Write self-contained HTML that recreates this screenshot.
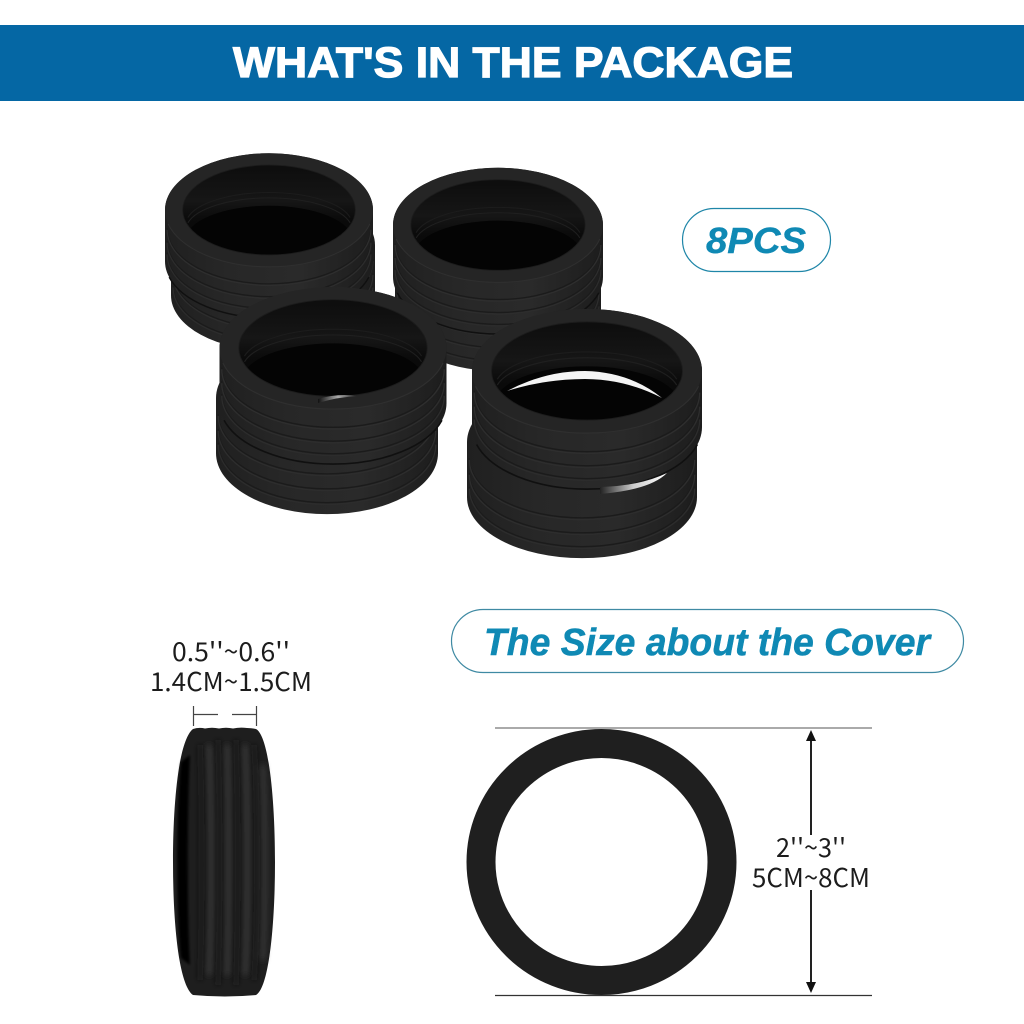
<!DOCTYPE html>
<html><head><meta charset="utf-8"><title>What's in the package</title>
<style>html,body{margin:0;padding:0;background:#fff}svg{display:block}</style></head>
<body>
<svg xmlns="http://www.w3.org/2000/svg" width="1024" height="1024" viewBox="0 0 1024 1024">
<defs>
<linearGradient id="body" x1="0" x2="1" y1="0" y2="0">
<stop offset="0" stop-color="#202020"/><stop offset=".3" stop-color="#272727"/><stop offset=".65" stop-color="#2a2a2a"/><stop offset="1" stop-color="#1d1d1d"/>
</linearGradient>
<linearGradient id="hole" x1="0" x2="0" y1="0" y2="1">
<stop offset="0" stop-color="#0d0d0d"/><stop offset=".4" stop-color="#161616"/><stop offset=".6" stop-color="#0b0b0b"/><stop offset="1" stop-color="#040404"/>
</linearGradient>
<linearGradient id="fade" x1="0" x2="1" y1="0" y2="0">
<stop offset="0" stop-color="#222"/><stop offset=".5" stop-color="#ccc"/><stop offset="1" stop-color="#fff"/>
</linearGradient>
<linearGradient id="fade2" x1="0" x2="1" y1="0" y2="0">
<stop offset="0" stop-color="#111"/><stop offset=".5" stop-color="#aaa"/><stop offset="1" stop-color="#222"/>
</linearGradient>
<filter id="b1" x="-40%" y="-10%" width="180%" height="120%"><feGaussianBlur stdDeviation="3"/></filter>
<filter id="b2" x="-10%" y="-10%" width="120%" height="120%"><feGaussianBlur stdDeviation="1.2"/></filter>
<clipPath id="holeclip"><ellipse cx="0" cy="0" rx="83" ry="42"/></clipPath>
<g id="lower">
<path d="M-100 0V48A100 53 0 0 0 100 48V0A100 53 0 0 0-100 0Z" fill="url(#body)"/>
<g fill="none" stroke-width="1.2">
<path d="M-98 14A98 52 0 0 0 98 14" stroke="#1b1b1b"/>
<path d="M-98 15.500A98 52 0 0 0 98 15.500" stroke="#2d2d2d"/>
<path d="M-98 27A98 52 0 0 0 98 27" stroke="#1b1b1b"/>
<path d="M-98 28.500A98 52 0 0 0 98 28.500" stroke="#2d2d2d"/>
<path d="M-98 39A98 52 0 0 0 98 39" stroke="#1b1b1b"/>
<path d="M-98 40.500A98 52 0 0 0 98 40.500" stroke="#2c2c2c"/>
</g>
</g>
<g id="upper">
<path d="M-100 0V48A100 53 0 0 0 100 48V0A100 53 0 0 0-100 0Z" fill="url(#body)"/>
<g fill="none" stroke-width="1.2">
<path d="M-98 17A98 52 0 0 0 98 17" stroke="#1b1b1b"/>
<path d="M-98 18.500A98 52 0 0 0 98 18.500" stroke="#2e2e2e"/>
<path d="M-98 29A98 52 0 0 0 98 29" stroke="#1b1b1b"/>
<path d="M-98 30.500A98 52 0 0 0 98 30.500" stroke="#2d2d2d"/>
<path d="M-98 40A98 52 0 0 0 98 40" stroke="#1b1b1b"/>
<path d="M-98 41.500A98 52 0 0 0 98 41.500" stroke="#2c2c2c"/>
</g>
<path d="M-96 62.800A100 53 0 0 0 96 62.800" fill="none" stroke="#101010" stroke-width="1.4"/>
<ellipse cx="0" cy="0" rx="100" ry="53" fill="#252525"/>
<path d="M-97 13A100 53 0 0 0 97 13" fill="none" stroke="#2f2f2f" stroke-width="1"/>
<ellipse cx="0" cy="0" rx="83" ry="42" fill="url(#hole)"/>
<g clip-path="url(#holeclip)">
<ellipse cx="0" cy="28" rx="80" ry="32" fill="#040404"/>
<g fill="none">
<path d="M-78 12A80 30 0 0 1 78 12" stroke="#1f1f1f" stroke-width="1"/>
<path d="M-78 7A80 30 0 0 1 78 7" stroke="#1c1c1c" stroke-width="1"/>
</g>
</g>
<ellipse cx="0" cy="0" rx="83" ry="42" fill="none" stroke="#1c1c1c" stroke-width=".8"/>
</g>
</defs>

<rect x="0" y="0" width="1024" height="1024" fill="#fff"/>

<!-- banner -->
<rect x="0" y="25" width="1024" height="76" fill="#0567a4"/>
<text x="233" y="77" font-family="Liberation Sans, sans-serif" font-weight="700" font-size="43" fill="#fff" stroke="#fff" stroke-width="1.2" textLength="560" lengthAdjust="spacingAndGlyphs">WHAT'S IN THE PACKAGE</text>

<!-- stack 1 -->
<use href="#lower" transform="translate(273 245) scale(1.02 1.05)"/>
<use href="#upper" transform="translate(269 210) scale(1.04 1.07)"/>
<!-- stack 2 -->
<use href="#lower" transform="translate(498 263) scale(1.03 1.07)"/>
<use href="#upper" transform="translate(498 225) scale(1.05 1.08)"/>
<!-- stack 3 -->
<use href="#lower" transform="translate(327 398) scale(1.11 1.15)"/>
<use href="#upper" transform="translate(333 348) scale(1.135 1.15)"/>
<path d="M318 399Q338 393 358 396Q338 397 318 403Z" fill="url(#fade2)"/>
<!-- stack 4 -->
<use href="#lower" transform="translate(582 442) scale(1.15 1.15)"/>
<use href="#upper" transform="translate(587 371) scale(1.15 1.17)"/>
<path d="M600 487Q640 486 667 473Q650 490 600 494Z" fill="url(#fade)"/>
<path d="M507 391Q545 371 585 371Q630 372 662 398Q625 379 585 379Q545 379 507 391Z" fill="#f4f4f4"/>

<!-- 8PCS pill -->
<rect x="682.5" y="208.5" width="148" height="63" rx="31.5" fill="#fff" stroke="#1f86a8" stroke-width="1.2"/>
<text x="706" y="253" font-family="Liberation Sans, sans-serif" font-weight="700" font-style="italic" font-size="36" fill="#0f89b4" stroke="#0f89b4" stroke-width=".4" textLength="100" lengthAdjust="spacingAndGlyphs">8PCS</text>

<!-- size pill -->
<rect x="451.5" y="609.5" width="512" height="63" rx="31.5" fill="#fff" stroke="#3f8aa3" stroke-width="1.2"/>
<text x="484" y="655" font-family="Liberation Sans, sans-serif" font-weight="700" font-style="italic" font-size="38" fill="#0f89b4" stroke="#0f89b4" stroke-width=".5" textLength="446" lengthAdjust="spacingAndGlyphs">The Size about the Cover</text>

<!-- side ring labels -->
<g font-family="Noto Sans CJK SC, Liberation Sans, sans-serif" font-size="26" fill="#1c1c1c">
<text x="172" y="661" textLength="118" lengthAdjust="spacingAndGlyphs">0.5''~0.6''</text>
<text x="150" y="691" textLength="162" lengthAdjust="spacingAndGlyphs">1.4CM~1.5CM</text>
<text x="776" y="857" textLength="70" lengthAdjust="spacingAndGlyphs">2''~3''</text>
<text x="752" y="887" textLength="118" lengthAdjust="spacingAndGlyphs">5CM~8CM</text>
</g>
<g stroke="#444" stroke-width="1.2" fill="none">
<path d="M193.5 706V726M256.5 706V726M194 714.5H218M232 714.5H256"/>
</g>

<!-- side ring -->
<path d="M193 729Q199 727 205 728.500Q212 727 219 728.500Q226 727 233 728.500Q240 727 247 728Q252 728 256 729C269 736 275 800 275 862C275 925 269 988 256 995Q225 998 193 995C179 985 173 925 173 862C173 800 179 740 193 729Z" fill="#1e1e1e"/>
<path d="M181 762C176 810 176 915 181 958L190 965C187 915 187 810 190 755Z" fill="#060606" filter="url(#b2)"/>
<g fill="none" stroke="#363636" stroke-width="6" filter="url(#b1)">
<path d="M209 745C212 800 212 925 209 975"/>
<path d="M227 745C229 800 229 925 227 975"/>
<path d="M245 745C248 800 248 925 245 975"/>
<path d="M262 765C265 810 265 915 262 960"/>
</g>
<g fill="none" stroke="#161616" stroke-width="3" filter="url(#b1)">
<path d="M200 745C202 800 202 925 200 980"/>
<path d="M218 740C220 800 220 925 218 985"/>
<path d="M236 740C238 800 238 925 236 985"/>
<path d="M254 745C258 800 258 925 254 980"/>
</g>

<!-- front ring -->
<ellipse cx="601.500" cy="862" rx="120.500" ry="118.500" fill="none" stroke="#1f1f1f" stroke-width="29"/>

<!-- dimension -->
<path d="M495 728H872" stroke="#777" stroke-width="1.2"/>
<path d="M495 995.500H872" stroke="#333" stroke-width="1.2"/>
<path d="M811 738V835M811 890V985" stroke="#222" stroke-width="2"/>
<path d="M811 730L816 741H806Z" fill="#111"/>
<path d="M811 993L816 982H806Z" fill="#111"/>
</svg>
</body></html>
